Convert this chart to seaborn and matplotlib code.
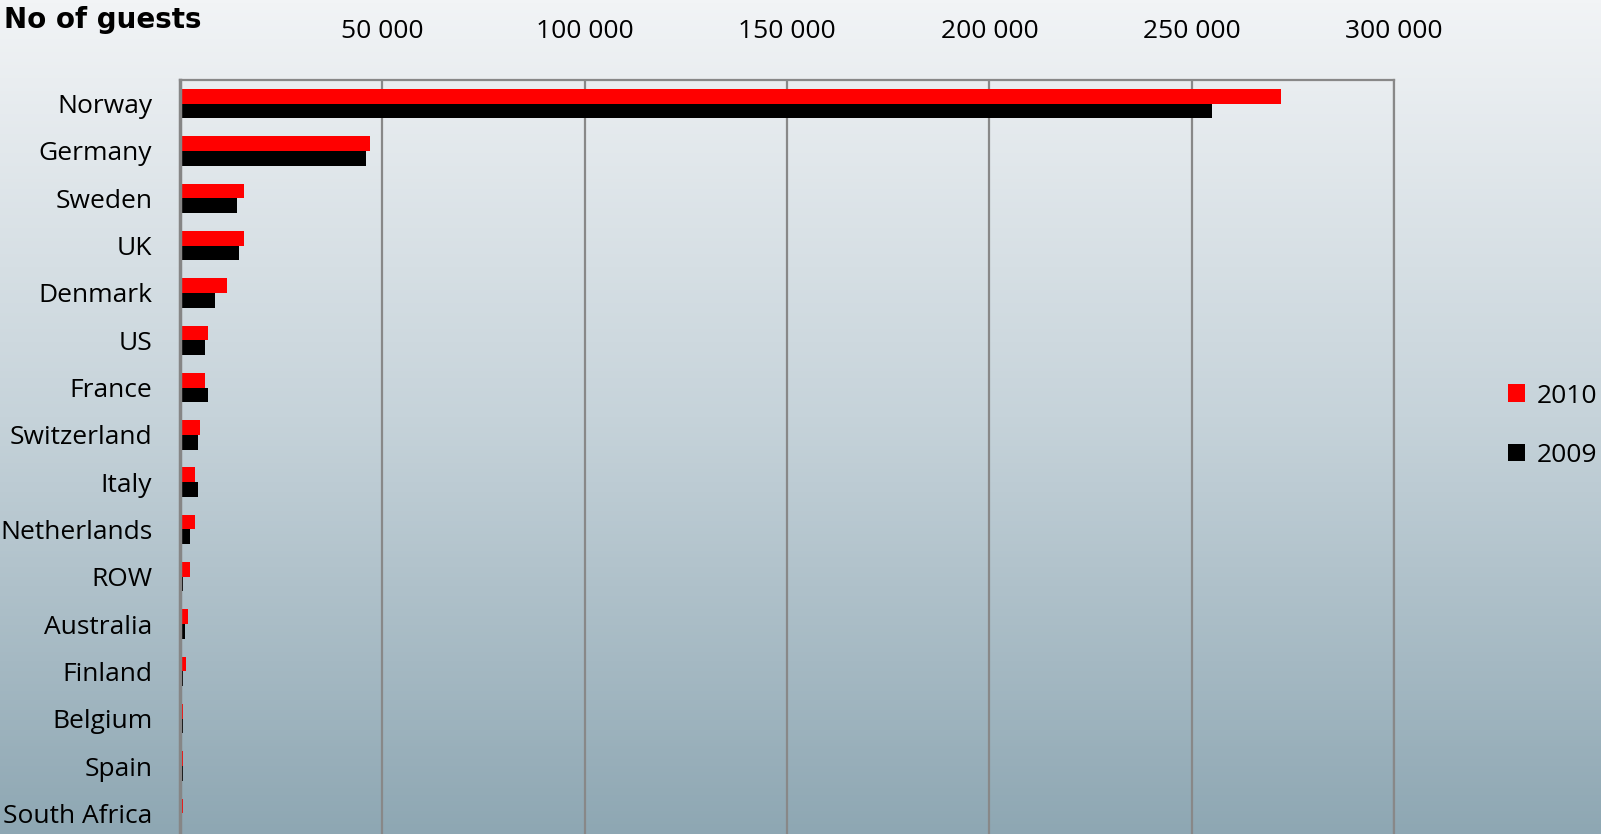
import numpy as np
import pandas as pd
import matplotlib
matplotlib.use("Agg")
import matplotlib.pyplot as plt
from matplotlib.colors import LinearSegmentedColormap
import seaborn as sns

# data
countries = ["Norway", "Germany", "Sweden", "UK", "Denmark", "US", "France",
             "Switzerland", "Italy", "Netherlands", "ROW", "Australia",
             "Finland", "Belgium", "Spain", "South Africa"]
guests_2010 = [272000, 47000, 15800, 15800, 11600, 6800, 6200, 4900,
               3800, 3800, 2500, 2000, 1400, 700, 700, 700]
guests_2009 = [255000, 46000, 14100, 14500, 8600, 6200, 6800, 4400,
               4400, 2500, 700, 1300, 700, 700, 700, 0]
years = ["2010", "2009"]
year_colors = ["#ff0000", "#000000"]
xticks = [50000, 100000, 150000, 200000, 250000, 300000]
xtick_labels = ["50 000", "100 000", "150 000", "200 000", "250 000", "300 000"]

df = pd.DataFrame({
    "country": countries * 2,
    "guests": guests_2010 + guests_2009,
    "year": ["2010"] * len(countries) + ["2009"] * len(countries),
})

sns.set_style("white", {"text.color": "black", "xtick.color": "black", "ytick.color": "black"})
plt.rcParams["font.family"] = ["Open Sans", "DejaVu Sans"]

fig = plt.figure(figsize=(16.01, 8.34), dpi=100)

# gradient background over the whole figure
bg = fig.add_axes([0, 0, 1, 1], zorder=-10)
cmap = LinearSegmentedColormap.from_list("bg", ["#f2f4f6", "#c6d3da", "#8ea7b3"])
grad = np.linspace(0, 1, 256).reshape(-1, 1)
bg.imshow(grad, aspect="auto", cmap=cmap, extent=[0, 1, 0, 1], origin="upper")
bg.axis("off")

ax = fig.add_axes([180 / 1601, -3 / 834, 1214 / 1601, 757 / 834])
ax.set_facecolor("none")
sns.barplot(data=df, y="country", x="guests", hue="year", hue_order=years,
            palette=year_colors, orient="h", width=0.62, saturation=1,
            order=countries, ax=ax, legend=True, linewidth=0)

ax.set_xlim(0, 300000)
ax.set_ylim(len(countries) - 0.5, -0.5)
ax.xaxis.tick_top()
ax.set_xticks(xticks)
ax.set_xticklabels(xtick_labels, fontsize=19)
ax.tick_params(axis="x", length=0, pad=26, colors="black")
ax.tick_params(axis="y", length=0, pad=20, labelsize=19, colors="black")
ax.set_xlabel("")
ax.set_ylabel("")
ax.grid(axis="x", color="#888888", linewidth=1.6)
ax.set_axisbelow(True)
for side in ["top", "right"]:
    ax.spines[side].set_color("#888888")
    ax.spines[side].set_linewidth(1.6)
ax.spines["left"].set_color("#868686")
ax.spines["left"].set_linewidth(2.5)
ax.spines["bottom"].set_visible(False)

handles, labels = ax.get_legend_handles_labels()
ax.get_legend().remove()
leg = fig.legend(handles, labels, loc="upper left", bbox_to_anchor=(1497 / 1601, 1 - 373 / 834),
                 frameon=False, fontsize=19, handlelength=0.65, handleheight=0.65,
                 handletextpad=0.45, labelspacing=1.3, borderaxespad=0)
for t in leg.get_texts():
    t.set_color("black")

fig.text(4 / 1601, 1 - 6 / 834, "No of guests", fontsize=20, fontweight="bold",
         family=["DejaVu Sans"], color="black", ha="left", va="top")

fig.savefig("out.png", dpi=100)
